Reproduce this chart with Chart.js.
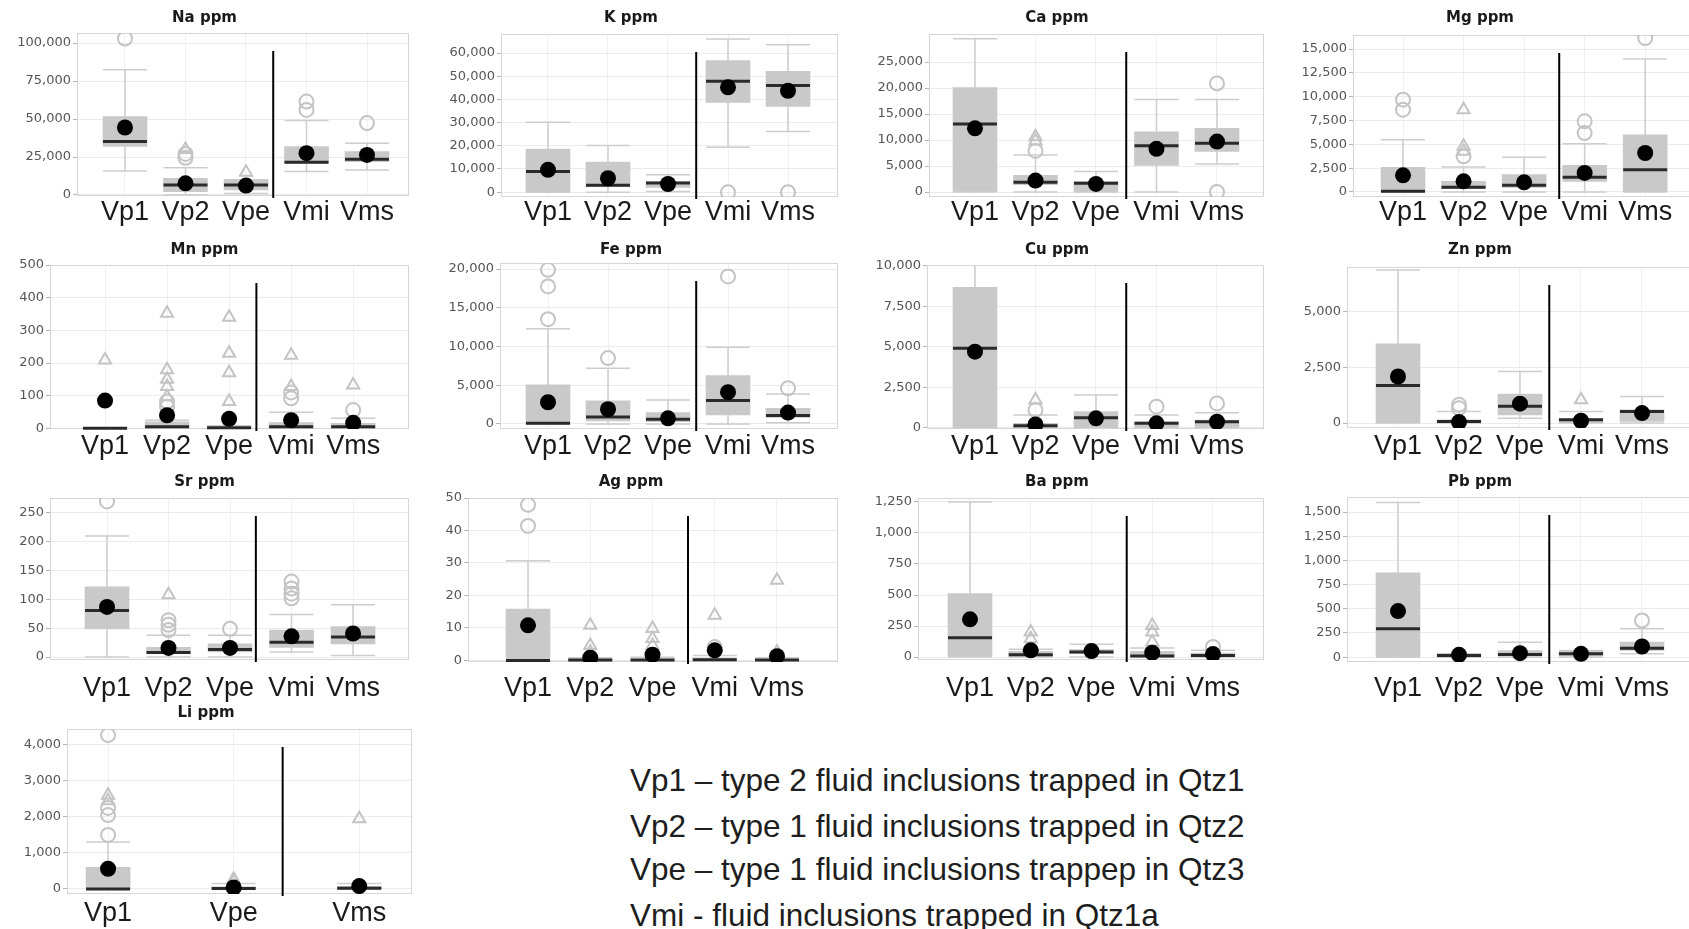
<!DOCTYPE html>
<html>
<head>
<meta charset="utf-8">
<script src="https://cdn.jsdelivr.net/npm/chart.js@4.4.1/dist/chart.umd.min.js"></script>
<style>
  html, body { margin: 0; padding: 0; background: #fff; width: 1689px; height: 929px; overflow: hidden; position: relative; }
  .panel { position: absolute; }
  .note { position: absolute; left: 630px; font-family: 'Liberation Sans', Arial, sans-serif; font-size: 31.5px;
          color: #1e1e1e; white-space: nowrap; line-height: 36px; }
</style>
</head>
<body>
<div class="note" style="top:762px">Vp1 – type 2 fluid inclusions trapped in Qtz1</div>
<div class="note" style="top:808px">Vp2 – type 1 fluid inclusions trapped in Qtz2</div>
<div class="note" style="top:851px">Vpe – type 1 fluid inclusions trappep in Qtz3</div>
<div class="note" style="top:897px">Vmi - fluid inclusions trapped in Qtz1a</div>
<script>
// panels, in reading order
const elements = ['Na', 'K', 'Ca', 'Mg', 'Mn', 'Fe', 'Cu', 'Zn', 'Sr', 'Ag', 'Ba', 'Pb', 'Li'];
const categories = ['Vp1', 'Vp2', 'Vpe', 'Vmi', 'Vms'];
const liCategories = ['Vp1', 'Vpe', 'Vms'];

// box statistics, one row per element (ppm)
const whiskerLow = [
    [15800, 0, 1000, 15400, 16500],
    [0, 0, 300, 19400, 26200],
    [0, 0, 0, 0, 5400],
    [0, 0, 0, 0, 0],
    [0, 0, 0, 0, 0],
    [0, 0, 0, 0, 150],
    [0, 0, 0, 0, 0],
    [0, 0, 220, 0, 0],
    [0, 0, 0, 9, 3],
    [0, 0, 0, 0, 0],
    [0, 0, 0, 0, 0],
    [0, 0, 0, 0, 34],
    [0, 0, 0]
];
const q1 = [
    [31900, 2200, 3300, 20900, 22000],
    [0, 2400, 2000, 38700, 37000],
    [0, 1400, 0, 5100, 7800],
    [0, 350, 490, 1120, 0],
    [0, 0, 0, 0, 0],
    [0, 400, 300, 1160, 860],
    [0, 60, 0, 60, 60],
    [0, 0, 370, 0, 75],
    [49, 6, 9, 17, 23],
    [0, 0, 0, 0, 0],
    [0, 0, 27, 0, 0],
    [0, 7, 10, 10, 69],
    [0, 0, 0]
];
const medians = [
    [35200, 6600, 6600, 21500, 23500],
    [8900, 3000, 3900, 47800, 46000],
    [13100, 1900, 1700, 8900, 9400],
    [70, 490, 700, 1540, 2340],
    [0, 5, 2, 5, 5],
    [90, 900, 600, 3020, 1080],
    [4910, 120, 620, 270, 370],
    [1690, 75, 750, 150, 520],
    [81, 8, 13, 26, 35],
    [0, 0.1, 0.1, 0.2, 0.1],
    [156, 19, 40, 8, 13],
    [293, 17, 28, 34, 93],
    [0, 10, 20]
];
const q3 = [
    [51600, 11000, 9900, 31900, 28600],
    [18600, 13000, 4600, 56700, 52100],
    [20100, 3200, 2000, 11600, 12250],
    [2590, 1120, 1820, 2800, 6010],
    [2, 20, 5, 18, 15],
    [5040, 3000, 1470, 6250, 2030],
    [8680, 270, 990, 370, 470],
    [3550, 150, 1300, 190, 600],
    [122, 17, 23, 47, 53],
    [15.8, 0.4, 0.4, 0.8, 0.3],
    [511, 46, 59, 46, 32],
    [872, 28, 69, 59, 155],
    [600, 60, 70]
];
const whiskerHigh = [
    [82400, 18000, 10000, 49000, 34000],
    [30100, 20100, 7500, 66000, 63600],
    [29500, 7100, 3950, 17800, 17800],
    [5490, 2620, 3640, 5070, 13950],
    [2, 25, 8, 49, 31],
    [12280, 7200, 3100, 9900, 3880],
    [11000, 780, 2020, 780, 930],
    [6870, 520, 2310, 520, 1190],
    [210, 38, 38, 74, 91],
    [30.7, 0.8, 1, 1.5, 0.8],
    [1250, 62, 102, 73, 54],
    [1597, 34, 155, 69, 293],
    [1300, 150, 150]
];
const means = [
    [44400, 7700, 6200, 27500, 26400],
    [9600, 6000, 3500, 45200, 43700],
    [12250, 2200, 1550, 8300, 9700],
    [1750, 1120, 1010, 2000, 4090],
    [85, 40, 29, 25, 17],
    [2800, 1900, 730, 4100, 1470],
    [4700, 200, 580, 270, 370],
    [2090, 45, 870, 105, 450],
    [87, 16, 16, 36, 41],
    [10.8, 0.8, 1.75, 3.1, 1.3],
    [304, 54, 48, 35, 24],
    [476, 24, 41, 34, 110],
    [560, 40, 80]
];
// outliers: [category number, value, 'c' circle | 't' triangle]
const outliers = [
    [[1, 103000, 'c'], [2, 30000, 't'], [2, 27000, 'c'], [2, 24500, 'c'], [3, 15000, 't'], [4, 56000, 'c'], [4, 61500, 'c'], [5, 47300, 'c']],
    [[4, 0, 'c'], [5, 0, 'c']],
    [[2, 10650, 't'], [2, 9800, 't'], [2, 7900, 'c'], [5, 20900, 'c'], [5, 0, 'c']],
    [[1, 8640, 'c'], [1, 9690, 'c'], [2, 8640, 't'], [2, 4790, 't'], [2, 4270, 't'], [2, 3740, 'c'], [4, 7410, 'c'], [4, 6190, 'c'], [5, 16150, 'c']],
    [[1, 209, 't'], [2, 352, 't'], [2, 179, 't'], [2, 150, 't'], [2, 128, 't'], [2, 97, 't'], [2, 82, 'c'], [2, 66, 'c'], [2, 36, 'c'],
     [3, 340, 't'], [3, 230, 't'], [3, 170, 't'], [3, 82, 't'], [4, 224, 't'], [4, 128, 't'], [4, 110, 'c'], [4, 92, 'c'], [5, 133, 't'], [5, 56, 'c']],
    [[1, 19900, 'c'], [1, 17760, 'c'], [1, 13530, 'c'], [2, 8500, 'c'], [4, 19050, 'c'], [5, 4610, 'c']],
    [[2, 1090, 'c'], [2, 1710, 't'], [4, 1300, 'c'], [5, 1500, 'c']],
    [[2, 820, 'c'], [2, 670, 'c'], [4, 1045, 't']],
    [[1, 270, 'c'], [2, 108, 't'], [2, 64, 'c'], [2, 56, 'c'], [2, 47, 'c'], [3, 49, 'c'], [4, 131, 'c'], [4, 119, 'c'], [4, 110, 'c'], [4, 102, 'c']],
    [[1, 47.9, 'c'], [1, 41.4, 'c'], [2, 10.8, 't'], [2, 4.6, 't'], [2, 2.6, 't'], [3, 9.8, 't'], [3, 6.7, 't'], [3, 4.6, 't'],
     [4, 13.9, 't'], [4, 4.1, 'c'], [5, 24.7, 't'], [5, 2.6, 't']],
    [[2, 202, 't'], [2, 148, 't'], [4, 255, 't'], [4, 202, 't'], [4, 121, 't'], [5, 81, 'c']],
    [[5, 379, 'c']],
    [[1, 4270, 'c'], [1, 2600, 't'], [1, 2450, 't'], [1, 2250, 'c'], [1, 2050, 'c'], [1, 1500, 'c'], [2, 270, 't'], [2, 200, 't'], [3, 1950, 't']]
];
const yTicks = [
    [0, 25000, 50000, 75000, 100000],
    [0, 10000, 20000, 30000, 40000, 50000, 60000],
    [0, 5000, 10000, 15000, 20000, 25000],
    [0, 2500, 5000, 7500, 10000, 12500, 15000],
    [0, 100, 200, 300, 400, 500],
    [0, 5000, 10000, 15000, 20000],
    [0, 2500, 5000, 7500, 10000],
    [0, 2500, 5000],
    [0, 50, 100, 150, 200, 250],
    [0, 10, 20, 30, 40, 50],
    [0, 250, 500, 750, 1000, 1250],
    [0, 250, 500, 750, 1000, 1250, 1500],
    [0, 1000, 2000, 3000, 4000]
];

// page layout: columns, rows and each plot area in page pixels
const cols = [[0, 424], [424, 426], [850, 434], [1270, 446]];
const rows = [
    { top: 0, title: 18, label: 213 },
    { top: 232, title: 250, label: 447 },
    { top: 465, title: 482, label: 689 },
    { top: 700, title: 713, label: 914 }
];
const frames = [
    { col: 0, row: 0, plot: [77, 33, 409, 196], x: [0.207, 5.694], y: [-660, 106600], sep: 3.45 },
    { col: 1, row: 0, plot: [501, 34, 838, 197], x: [0.217, 5.833], y: [-2100, 68200], sep: 3.47 },
    { col: 2, row: 0, plot: [929, 34, 1264, 197], x: [0.24, 5.777], y: [-960, 30400], sep: 3.5 },
    { col: 3, row: 0, plot: [1353, 35, 1690, 197], x: [0.174, 5.74], y: [-525, 16470], sep: 3.58 },
    { col: 0, row: 1, plot: [50, 265, 409, 429], x: [0.113, 5.9], y: [-2, 500], sep: 3.44 },
    { col: 1, row: 1, plot: [500, 263, 838, 429], x: [0.2, 5.833], y: [-650, 20780], sep: 3.47 },
    { col: 2, row: 1, plot: [927, 265, 1264, 429], x: [0.207, 5.777], y: [-80, 10060], sep: 3.5 },
    { col: 3, row: 1, plot: [1347, 267, 1690, 428], x: [0.164, 5.787], y: [-220, 7000], sep: 3.48 },
    { col: 0, row: 2, plot: [50, 498, 409, 660], x: [0.073, 5.91], y: [-5, 276], sep: 3.42 },
    { col: 1, row: 2, plot: [468, 498, 838, 662], x: [0.036, 5.98], y: [-0.5, 50], sep: 3.57 },
    { col: 2, row: 2, plot: [918, 498, 1264, 660], x: [0.144, 5.84], y: [-24, 1282], sep: 3.58 },
    { col: 3, row: 2, plot: [1347, 497, 1690, 662], x: [0.164, 5.787], y: [-50, 1655], sep: 3.48 },
    { col: 0, row: 3, plot: [67, 729, 412, 894], x: [0.673, 3.42], y: [-140, 4440], sep: 2.39 }
];

const BOX_W = 44;

function boxParts(p, cats) {
    return {
        id: 'boxParts' + p,
        beforeDatasetsDraw(chart) {
            const { ctx, chartArea: a, scales: { x, y } } = chart;
            ctx.save();
            ctx.strokeStyle = '#d6d6d6';
            ctx.lineWidth = 1;
            ctx.strokeRect(a.left + 0.5, a.top + 0.5, a.width - 1, a.height - 1);
            ctx.beginPath();
            ctx.rect(a.left, a.top, a.width, a.height);
            ctx.clip();
            ctx.strokeStyle = '#cdcdcd';
            ctx.lineWidth = 1.5;
            cats.forEach((c, i) => {
                const px = x.getPixelForValue(i + 1);
                const lo = y.getPixelForValue(whiskerLow[p][i]);
                const hi = y.getPixelForValue(whiskerHigh[p][i]);
                ctx.beginPath();
                ctx.moveTo(px, lo); ctx.lineTo(px, y.getPixelForValue(q1[p][i]));
                ctx.moveTo(px, y.getPixelForValue(q3[p][i])); ctx.lineTo(px, hi);
                ctx.moveTo(px - BOX_W / 2, lo); ctx.lineTo(px + BOX_W / 2, lo);
                ctx.moveTo(px - BOX_W / 2, hi); ctx.lineTo(px + BOX_W / 2, hi);
                ctx.stroke();
            });
            ctx.restore();
        },
        afterDatasetDraw(chart, args) {
            if (args.index !== 0) return;
            const { ctx, scales: { x, y } } = chart;
            ctx.save();
            ctx.strokeStyle = '#2a2a2a';
            ctx.lineWidth = 3;
            cats.forEach((c, i) => {
                const px = x.getPixelForValue(i + 1);
                const py = y.getPixelForValue(medians[p][i]);
                ctx.beginPath();
                ctx.moveTo(px - BOX_W / 2, py);
                ctx.lineTo(px + BOX_W / 2, py);
                ctx.stroke();
            });
            ctx.restore();
        },
        afterDatasetsDraw(chart) {
            const { ctx, chartArea: a, scales: { x } } = chart;
            const sx = x.getPixelForValue(frames[p].sep);
            ctx.save();
            ctx.strokeStyle = '#000';
            ctx.lineWidth = 2;
            ctx.beginPath();
            ctx.moveTo(sx, a.top + 18);
            ctx.lineTo(sx, a.bottom + 2);
            ctx.stroke();
            ctx.restore();
        }
    };
}

elements.forEach((el, p) => {
    const f = frames[p];
    const [colLeft, colW] = cols[f.col];
    const row = rows[f.row];
    const [L, T, R, B] = f.plot;
    const cats = el === 'Li' ? liCategories : categories;
    const height = row.label + 20 - row.top;

    const div = document.createElement('div');
    div.className = 'panel';
    div.style.left = colLeft + 'px';
    div.style.top = row.top + 'px';
    div.style.width = colW + 'px';
    div.style.height = height + 'px';
    const canvas = document.createElement('canvas');
    canvas.width = colW;
    canvas.height = height;
    div.appendChild(canvas);
    document.body.appendChild(div);

    const titleLine = 15 * 1.2;
    const labelLine = 27 * 1.2;

    new Chart(canvas.getContext('2d'), {
        type: 'bar',
        data: {
            datasets: [{
                data: cats.map((c, i) => ({ x: i + 1, y: [q1[p][i], q3[p][i]] })),
                backgroundColor: '#c9c9c9',
                borderWidth: 0,
                barThickness: BOX_W,
                order: 3
            }, {
                type: 'scatter',
                data: outliers[p].map(o => ({ x: o[0], y: o[1] })),
                pointStyle: outliers[p].map(o => o[2] === 't' ? 'triangle' : 'circle'),
                pointRadius: 7,
                borderColor: '#c4c4c4',
                borderWidth: 2,
                backgroundColor: 'rgba(255,255,255,0)',
                order: 2
            }, {
                type: 'scatter',
                data: means[p].map((v, i) => ({ x: i + 1, y: v })),
                pointRadius: 8,
                backgroundColor: '#000000',
                borderWidth: 0,
                order: 1
            }]
        },
        options: {
            responsive: false,
            animation: false,
            events: [],
            layout: { padding: { left: 0, top: 0, bottom: 0, right: colLeft + colW - R } },
            plugins: {
                legend: { display: false },
                tooltip: { enabled: false },
                title: {
                    display: true,
                    text: el + ' ppm',
                    color: '#1a1a1a',
                    font: { family: "'DejaVu Sans', sans-serif", size: 15, weight: 'bold' },
                    padding: { top: row.title - row.top - titleLine / 2, bottom: T - row.title - titleLine / 2 }
                }
            },
            scales: {
                x: {
                    type: 'linear',
                    min: f.x[0],
                    max: f.x[1],
                    offset: false,
                    grid: { offset: false, color: '#f1f1f1', drawTicks: false },
                    border: { display: false },
                    afterBuildTicks: s => { s.ticks = cats.map((c, i) => ({ value: i + 1 })); },
                    afterFit: s => { s.height = row.top + height - B; },
                    ticks: {
                        autoSkip: false,
                        maxRotation: 0,
                        padding: row.label - B - labelLine / 2,
                        color: '#1a1a1a',
                        font: { family: "'Liberation Sans', Arial, sans-serif", size: 27 },
                        callback: v => cats[Math.round(v) - 1]
                    }
                },
                y: {
                    min: f.y[0],
                    max: f.y[1],
                    grid: { color: '#ebebeb', tickColor: '#b5b5b5', tickLength: 4 },
                    border: { display: false },
                    afterBuildTicks: s => { s.ticks = yTicks[p].map(v => ({ value: v })); },
                    afterFit: s => { s.width = L - colLeft; },
                    ticks: {
                        padding: 2,
                        color: '#555555',
                        font: { family: "'DejaVu Sans', sans-serif", size: 13 },
                        callback: v => v.toLocaleString('en-US')
                    }
                }
            }
        },
        plugins: [boxParts(p, cats)]
    });
});
</script>
</body>
</html>
